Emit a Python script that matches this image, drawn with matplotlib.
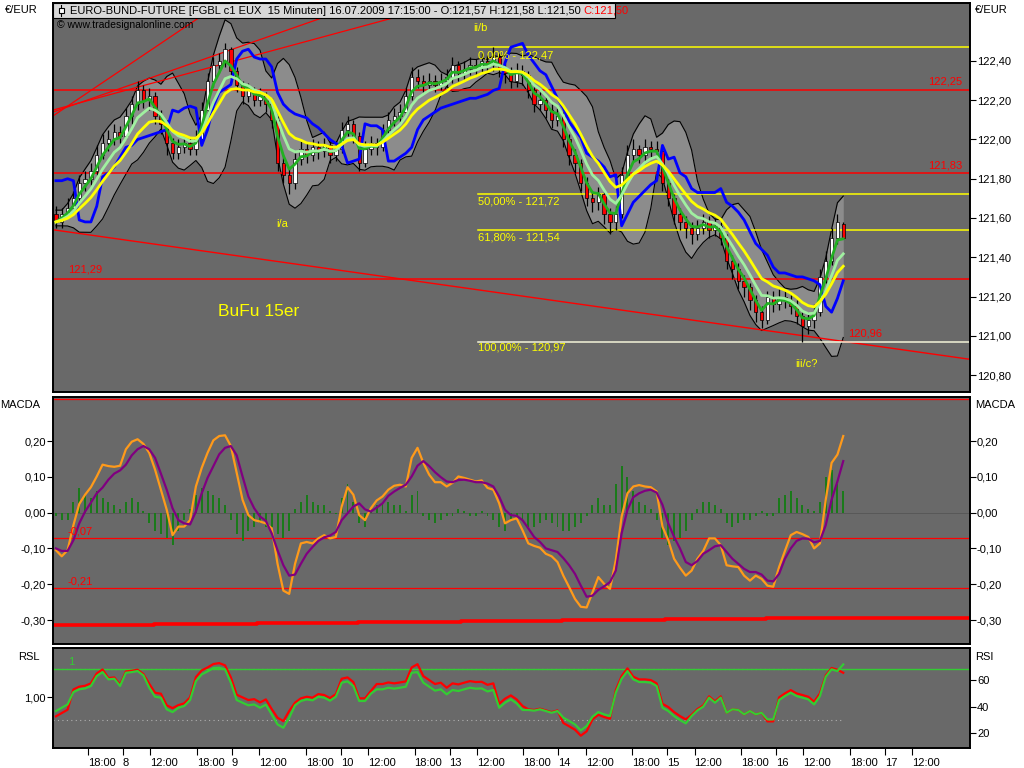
import numpy as np
import pandas as pd
import matplotlib
matplotlib.use("Agg")
import matplotlib.pyplot as plt
from matplotlib.patches import Rectangle
from matplotlib.collections import PatchCollection

plt.rcParams['font.family'] = ['Liberation Sans', 'DejaVu Sans']

# ---------------- data (45-minute samples of the 15-minute chart) ----------------
opens = [121.62, 121.58, 121.62, 121.65, 121.70, 121.78, 121.80, 121.84, 121.92, 121.98,
         122.00, 122.04, 122.02, 122.12, 122.18, 122.25, 122.20, 122.22, 122.12, 122.08,
         121.98, 121.93, 121.96, 121.98, 121.95, 122.00, 122.15, 122.30, 122.38, 122.40,
         122.46, 122.35, 122.28, 122.22, 122.25, 122.20, 122.22, 122.18, 122.10, 121.88,
         121.82, 121.78, 121.90, 121.95, 121.92, 121.96, 121.94, 121.97, 121.92, 121.95,
         122.05, 122.08, 122.02, 121.88, 121.95, 121.98, 121.96, 122.05, 122.10, 122.12,
         122.14, 122.22, 122.32, 122.30, 122.28, 122.30, 122.28, 122.30, 122.32, 122.38,
         122.34, 122.36, 122.38, 122.37, 122.40, 122.38, 122.42, 122.36, 122.34, 122.30,
         122.35, 122.33, 122.25, 122.18, 122.20, 122.15, 122.10, 122.12, 122.00, 121.92,
         121.88, 121.78, 121.70, 121.68, 121.72, 121.62, 121.58, 121.62, 121.82, 121.92,
         121.95, 121.92, 121.96, 121.95, 121.94, 121.78, 121.70, 121.62, 121.58, 121.55,
         121.52, 121.55, 121.58, 121.54, 121.56, 121.50, 121.38, 121.34, 121.28, 121.25,
         121.18, 121.12, 121.08, 121.20, 121.16, 121.20, 121.18, 121.15, 121.10, 121.05,
         121.08, 121.12, 121.30, 121.38, 121.50, 121.57]
highs = [121.66, 121.65, 121.70, 121.74, 121.82, 121.84, 121.88, 121.97, 122.03, 122.05,
         122.08, 122.07, 122.16, 122.22, 122.30, 122.28, 122.26, 122.24, 122.15, 122.10,
         122.01, 122.00, 122.03, 122.01, 122.05, 122.19, 122.34, 122.42, 122.44, 122.49,
         122.47, 122.37, 122.30, 122.29, 122.27, 122.26, 122.24, 122.21, 122.12, 121.92,
         121.86, 121.93, 121.99, 121.98, 122.00, 121.99, 122.01, 121.99, 121.99, 122.09,
         122.12, 122.10, 122.04, 121.99, 122.02, 122.01, 122.08, 122.14, 122.16, 122.18,
         122.26, 122.37, 122.36, 122.33, 122.34, 122.33, 122.34, 122.36, 122.42, 122.40,
         122.40, 122.42, 122.41, 122.44, 122.43, 122.47, 122.44, 122.39, 122.37, 122.39,
         122.38, 122.35, 122.27, 122.24, 122.22, 122.18, 122.16, 122.14, 122.03, 121.95,
         121.90, 121.81, 121.74, 121.76, 121.74, 121.65, 121.66, 121.86, 121.97, 122.00,
         121.97, 122.00, 121.99, 121.99, 121.96, 121.80, 121.72, 121.65, 121.61, 121.58,
         121.59, 121.62, 121.61, 121.60, 121.58, 121.52, 121.41, 121.37, 121.31, 121.27,
         121.21, 121.15, 121.23, 121.23, 121.24, 121.23, 121.21, 121.18, 121.12, 121.12,
         121.16, 121.34, 121.43, 121.55, 121.62, 121.58]
lows = [121.55, 121.55, 121.60, 121.62, 121.68, 121.74, 121.77, 121.82, 121.90, 121.94,
        121.97, 121.98, 122.00, 122.08, 122.15, 122.16, 122.15, 122.08, 122.03, 121.92,
        121.90, 121.90, 121.93, 121.92, 121.92, 121.98, 122.12, 122.27, 122.34, 122.37,
        122.31, 122.24, 122.18, 122.19, 122.17, 122.17, 122.14, 122.06, 121.84, 121.78,
        121.72, 121.75, 121.87, 121.88, 121.89, 121.90, 121.91, 121.88, 121.89, 121.93,
        122.02, 121.98, 121.84, 121.86, 121.92, 121.92, 121.94, 122.03, 122.07, 122.09,
        122.12, 122.20, 122.26, 122.24, 122.25, 122.24, 122.25, 122.27, 122.29, 122.30,
        122.31, 122.33, 122.33, 122.34, 122.34, 122.35, 122.32, 122.29, 122.26, 122.27,
        122.28, 122.21, 122.14, 122.15, 122.11, 122.06, 122.07, 121.96, 121.87, 121.83,
        121.74, 121.66, 121.63, 121.64, 121.57, 121.52, 121.54, 121.60, 121.80, 121.89,
        121.88, 121.89, 121.91, 121.90, 121.74, 121.66, 121.57, 121.54, 121.50, 121.47,
        121.49, 121.52, 121.50, 121.51, 121.46, 121.34, 121.29, 121.24, 121.20, 121.13,
        121.07, 121.04, 121.06, 121.12, 121.13, 121.14, 121.11, 121.06, 120.97, 121.01,
        121.04, 121.10, 121.27, 121.36, 121.47, 121.50]
closes = [121.58, 121.62, 121.65, 121.70, 121.78, 121.80, 121.84, 121.92, 121.98, 122.00,
          122.04, 122.02, 122.12, 122.18, 122.25, 122.20, 122.22, 122.12, 122.08, 121.98,
          121.93, 121.96, 121.98, 121.95, 122.00, 122.15, 122.30, 122.38, 122.40, 122.46,
          122.35, 122.28, 122.22, 122.25, 122.20, 122.22, 122.18, 122.10, 121.88, 121.82,
          121.78, 121.90, 121.95, 121.92, 121.96, 121.94, 121.97, 121.92, 121.95, 122.05,
          122.08, 122.02, 121.88, 121.95, 121.98, 121.96, 122.05, 122.10, 122.12, 122.14,
          122.22, 122.32, 122.30, 122.28, 122.30, 122.28, 122.30, 122.32, 122.38, 122.34,
          122.36, 122.38, 122.37, 122.40, 122.38, 122.42, 122.36, 122.34, 122.30, 122.35,
          122.33, 122.25, 122.18, 122.20, 122.15, 122.10, 122.12, 122.00, 121.92, 121.88,
          121.78, 121.70, 121.68, 121.72, 121.62, 121.58, 121.62, 121.82, 121.92, 121.95,
          121.92, 121.96, 121.95, 121.94, 121.78, 121.70, 121.62, 121.58, 121.55, 121.52,
          121.55, 121.58, 121.54, 121.56, 121.50, 121.38, 121.34, 121.28, 121.25, 121.18,
          121.12, 121.08, 121.20, 121.16, 121.20, 121.18, 121.15, 121.10, 121.05, 121.08,
          121.12, 121.30, 121.38, 121.50, 121.58, 121.50]
blue_line = [121.79, 121.79, 121.80, 121.79, 121.59, 121.58, 121.58, 121.66, 121.81, 121.83,
             121.86, 121.91, 121.96, 121.97, 122.00, 122.01, 122.02, 122.03, 122.04, 122.05,
             122.15, 122.14, 122.16, 122.17, 122.16, 121.97, 122.05, 122.17, 122.24, 122.26,
             122.28, 122.41, 122.45, 122.46, 122.42, 122.41, 122.41, 122.37, 122.24, 122.18,
             122.15, 122.13, 122.12, 122.11, 122.08, 122.06, 122.03, 122.00, 121.98, 121.97,
             121.88, 121.89, 121.90, 122.08, 122.07, 122.07, 122.05, 121.89, 121.89, 121.91,
             121.93, 121.96, 122.05, 122.10, 122.12, 122.14, 122.16, 122.17, 122.18, 122.19,
             122.20, 122.21, 122.21, 122.22, 122.23, 122.25, 122.26, 122.39, 122.47, 122.48,
             122.49, 122.43, 122.39, 122.35, 122.33, 122.27, 122.21, 122.16, 122.09, 122.05,
             122.01, 121.93, 121.91, 121.89, 121.86, 121.81, 121.82, 121.56, 121.62, 121.68,
             121.71, 121.74, 121.77, 121.79, 121.97, 121.90, 121.91, 121.83, 121.81, 121.75,
             121.73, 121.73, 121.73, 121.73, 121.75, 121.68, 121.66, 121.63, 121.59, 121.53,
             121.47, 121.44, 121.41, 121.35, 121.32, 121.32, 121.31, 121.30, 121.30, 121.29,
             121.28, 121.26, 121.15, 121.12, 121.19, 121.28]

macd = [-0.105, -0.122, -0.105, -0.035, 0.024, 0.050, 0.071, 0.101, 0.134, 0.130,
        0.128, 0.131, 0.177, 0.198, 0.205, 0.192, 0.167, 0.120, 0.064, 0.008,
        -0.063, -0.039, -0.039, -0.021, 0.073, 0.125, 0.167, 0.202, 0.214, 0.216,
        0.186, 0.111, 0.036, -0.007, -0.021, -0.025, -0.030, -0.044, -0.143, -0.218,
        -0.227, -0.143, -0.086, -0.082, -0.086, -0.072, -0.063, -0.072, -0.068, 0.017,
        0.071, 0.050, -0.007, -0.021, 0.012, 0.034, 0.045, 0.064, 0.075, 0.078,
        0.073, 0.153, 0.181, 0.139, 0.106, 0.085, 0.085, 0.073, 0.083, 0.101,
        0.097, 0.092, 0.087, 0.090, 0.069, 0.064, 0.026, -0.030, -0.021, -0.016,
        -0.049, -0.086, -0.093, -0.098, -0.115, -0.122, -0.138, -0.176, -0.208, -0.241,
        -0.263, -0.265, -0.223, -0.180, -0.199, -0.213, -0.133, -0.011, 0.054, 0.073,
        0.077, 0.073, 0.071, 0.059, -0.039, -0.077, -0.129, -0.154, -0.176, -0.162,
        -0.129, -0.107, -0.072, -0.072, -0.091, -0.147, -0.150, -0.152, -0.176, -0.190,
        -0.176, -0.185, -0.204, -0.207, -0.152, -0.107, -0.063, -0.054, -0.060, -0.068,
        -0.100, -0.086, 0.036, 0.139, 0.162, 0.214]
signal = [-0.100, -0.107, -0.107, -0.077, -0.030, 0.003, 0.028, 0.054, 0.070, 0.092,
          0.109, 0.118, 0.134, 0.160, 0.177, 0.186, 0.177, 0.153, 0.109, 0.064,
          0.012, -0.021, -0.030, -0.033, 0.003, 0.054, 0.097, 0.130, 0.163, 0.181,
          0.186, 0.160, 0.101, 0.045, 0.012, -0.011, -0.023, -0.058, -0.105, -0.147,
          -0.176, -0.173, -0.143, -0.115, -0.096, -0.079, -0.069, -0.064, -0.054, -0.021,
          -0.002, 0.017, 0.026, 0.009, 0.003, 0.014, 0.026, 0.047, 0.059, 0.069,
          0.078, 0.101, 0.131, 0.144, 0.130, 0.113, 0.099, 0.087, 0.085, 0.091,
          0.092, 0.089, 0.085, 0.085, 0.081, 0.073, 0.045, 0.008, -0.007, -0.009,
          -0.021, -0.044, -0.068, -0.082, -0.100, -0.105, -0.110, -0.127, -0.147, -0.171,
          -0.204, -0.235, -0.232, -0.216, -0.206, -0.194, -0.162, -0.058, 0.008, 0.043,
          0.054, 0.061, 0.064, 0.056, 0.022, -0.030, -0.068, -0.100, -0.138, -0.147,
          -0.135, -0.115, -0.105, -0.094, -0.091, -0.110, -0.129, -0.143, -0.157, -0.166,
          -0.166, -0.173, -0.190, -0.192, -0.171, -0.129, -0.100, -0.079, -0.072, -0.073,
          -0.083, -0.079, -0.035, 0.036, 0.087, 0.144]
hist = [-0.01, -0.02, -0.02, 0.03, 0.07, 0.05, 0.04, 0.06, 0.04, 0.03,
        0.02, 0.01, 0.03, 0.04, 0.03, 0.005, -0.03, -0.05, -0.06, -0.07,
        -0.09, -0.05, -0.02, 0.01, 0.05, 0.07, 0.06, 0.05, 0.04, 0.02,
        -0.02, -0.06, -0.08, -0.05, -0.04, -0.03, -0.04, -0.04, -0.06, -0.07,
        -0.05, 0.01, 0.03, 0.05, 0.03, 0.02, 0.02, 0.005, -0.005, 0.04,
        0.08, 0.03, -0.03, -0.04, 0.01, 0.02, 0.03, 0.03, 0.02, 0.02,
        0.005, 0.05, 0.06, -0.01, -0.02, -0.03, -0.02, -0.01, -0.01, 0.01,
        0.005, -0.01, -0.01, 0.005, -0.01, -0.02, -0.04, -0.05, -0.02, -0.01,
        -0.02, -0.04, -0.04, -0.03, -0.02, -0.03, -0.04, -0.05, -0.05, -0.04,
        -0.03, -0.01, 0.02, 0.04, 0.02, 0.02, 0.08, 0.13, 0.10, 0.06,
        0.03, 0.02, 0.01, -0.02, -0.07, -0.09, -0.08, -0.07, -0.05, -0.02,
        0.01, 0.03, 0.03, 0.02, 0.01, -0.03, -0.04, -0.03, -0.02, -0.02,
        -0.01, 0.005, -0.01, -0.01, 0.04, 0.05, 0.06, 0.04, 0.02, 0.01,
        0.005, 0.03, 0.10, 0.12, 0.08, 0.06]
macd_long = [-0.315, -0.312, -0.309, -0.306, -0.303, -0.300, -0.297, -0.294]

rsi_green = [36.6, 39.1, 41.6, 50.9, 53.0, 53.7, 55.5, 63.0, 66.0, 60.5,
             61.0, 55.5, 65.5, 66.0, 66.8, 63.5, 54.2, 47.4, 46.7, 37.9,
             35.8, 39.1, 40.4, 44.9, 59.2, 64.3, 66.5, 69.1, 69.3, 68.1,
             58.0, 44.9, 42.9, 40.9, 41.6, 39.1, 41.4, 34.1, 26.5, 24.0,
             31.6, 40.9, 44.2, 45.4, 44.7, 47.4, 46.7, 44.4, 47.4, 58.0,
             59.0, 55.5, 44.2, 44.2, 49.7, 53.0, 53.0, 54.2, 53.5, 54.2,
             55.0, 65.5, 66.0, 58.0, 55.0, 52.0, 53.0, 49.2, 52.5, 51.7,
             53.0, 54.2, 53.5, 53.7, 51.4, 52.5, 39.1, 42.9, 45.4, 42.4,
             37.4, 37.4, 36.9, 37.9, 36.6, 35.3, 36.6, 31.6, 29.1, 26.5,
             22.0, 25.3, 32.3, 35.8, 34.1, 32.8, 50.4, 61.0, 66.8, 60.5,
             58.5, 58.5, 58.0, 55.5, 39.1, 36.6, 32.8, 29.8, 27.3, 32.8,
             37.1, 39.9, 46.7, 42.9, 46.7, 35.3, 37.9, 37.4, 34.1, 36.6,
             34.1, 35.3, 30.3, 30.3, 44.9, 47.9, 50.4, 47.9, 46.7, 45.4,
             41.6, 47.9, 62.5, 68.1, 66.8, 71.8]
rsi_red = [32.6, 35.1, 37.6, 52.9, 55.0, 55.7, 57.5, 65.0, 68.0, 61.5,
           62.0, 56.5, 66.5, 67.0, 67.8, 64.5, 57.2, 50.4, 49.7, 40.9,
           38.8, 41.1, 42.4, 46.9, 62.2, 67.3, 69.5, 72.1, 72.8, 71.1,
           62.0, 48.9, 46.9, 44.9, 45.6, 43.1, 45.4, 38.1, 31.5, 29.0,
           36.6, 42.9, 46.2, 47.4, 46.7, 49.4, 48.7, 46.4, 49.4, 61.0,
           62.0, 58.5, 46.2, 46.2, 51.7, 57.0, 57.0, 58.2, 57.5, 58.2,
           59.0, 69.5, 72.0, 63.0, 60.0, 57.0, 58.0, 54.2, 57.5, 56.7,
           58.0, 59.2, 58.5, 58.7, 56.4, 57.5, 42.1, 45.9, 48.4, 45.4,
           40.4, 37.9, 37.4, 38.4, 37.1, 35.8, 37.1, 27.6, 25.1, 22.5,
           18.0, 21.3, 30.3, 33.8, 32.1, 30.8, 52.4, 63.0, 68.8, 62.5,
           60.5, 60.5, 60.0, 57.5, 42.1, 39.6, 35.8, 32.8, 30.3, 33.8,
           38.1, 40.9, 47.7, 43.9, 47.7, 35.3, 37.9, 37.4, 34.1, 36.6,
           34.1, 35.3, 28.8, 28.8, 46.9, 49.9, 52.4, 49.9, 48.7, 47.4,
           43.6, 49.9, 63.5, 69.1, 67.8, 65.5]

price_ticks = [122.40, 122.20, 122.00, 121.80, 121.60, 121.40, 121.20, 121.00, 120.80]
macd_ticks = [0.20, 0.10, 0.00, -0.10, -0.20, -0.30]
rsi_ticks = [60, 40, 20]
red_levels = [122.25, 121.83, 121.29]
fib_levels = [122.47, 121.72, 121.54, 120.97]
fib_labels = ["0,00% - 122,47", "50,00% - 121,72", "61,80% - 121,54", "100,00% - 120,97"]
macd_levels = [-0.07, -0.21]
x_tick_bars = [18, 36, 50, 74, 92, 106, 130, 148, 162, 186, 204, 218,
               242, 260, 274, 298, 316, 330, 354, 372, 386, 410, 428, 442]
x_tick_labels = ['18:00', '8', '12:00', '18:00', '9', '12:00', '18:00', '10', '12:00',
                 '18:00', '13', '12:00', '18:00', '14', '12:00', '18:00', '15', '12:00',
                 '18:00', '16', '12:00', '18:00', '17', '12:00']
# trend lines given as (bar index, price) end points
down_trend = [(0, 121.54), (471.7, 120.88)]
fan_lines = [[(0, 122.12), (75, 122.62)], [(0, 122.14), (150, 122.66)], [(0, 122.15), (190, 122.66)]]

# ---------------- figure ----------------
W, H = 1024, 768
fig = plt.figure(figsize=(W / 100, H / 100), dpi=100, facecolor='white')


def rect(x0, y0, x1, y1):
    return [x0 / W, 1 - y1 / H, (x1 - x0) / W, (y1 - y0) / H]


def ftext(x, y, s, **kw):
    return fig.text(x / W, 1 - y / H, s, **kw)


BG = '#696969'
XMAX = 471.7
ax_p = fig.add_axes(rect(53, 3, 970, 392))
ax_m = fig.add_axes(rect(53, 397, 970, 644))
ax_r = fig.add_axes(rect(53, 648, 970, 748))
for ax in (ax_p, ax_m, ax_r):
    ax.set_facecolor(BG)
    ax.set_xlim(0, XMAX)
    for s in ax.spines.values():
        s.set_color('black')
        s.set_linewidth(1.4)
    ax.tick_params(colors='black', labelsize=8, direction='out', length=4, width=0.8, pad=1)

fmt = lambda v: f"{v:.2f}".replace('.', ',')

# ---------- price panel ----------
n = min(len(opens), len(highs), len(lows), len(closes))
t = np.arange(n) * 3 + 1.5
o = np.array(opens[:n]); h = np.array(highs[:n]); l = np.array(lows[:n]); c = np.array(closes[:n])
ax_p.set_ylim(120.7134, 122.6955)
ax_p.yaxis.tick_right()
ax_p.set_yticks(price_ticks)
ax_p.set_yticklabels([fmt(v) for v in price_ticks])
ax_p.set_xticks([])

s = pd.Series(c)
mid = s.rolling(7, min_periods=2).mean()
sd = s.rolling(7, min_periods=2).std(ddof=0)
upper = (mid + 2 * sd).bfill()
lower = (mid - 2 * sd).bfill()
ax_p.fill_between(t, lower, upper, color='#8c8c8c', zorder=1, lw=0)
ax_p.plot(t, upper, color='black', lw=0.8, zorder=1.5)
ax_p.plot(t, lower, color='black', lw=0.8, zorder=1.5)

for lv in red_levels:
    ax_p.axhline(lv, color='#ff0000', lw=1.1, zorder=2)
ax_p.plot([p[0] for p in down_trend], [p[1] for p in down_trend], color='#ff0000', lw=1.0, zorder=2)
for fl in fan_lines:
    ax_p.plot([p[0] for p in fl], [p[1] for p in fl], color='#ff0000', lw=0.9, zorder=2)
for lv in fib_levels[:3]:
    ax_p.plot([218.6, XMAX], [lv, lv], color='#ffff00', lw=1.1, zorder=2)
ax_p.plot([218.6, XMAX], [fib_levels[3], fib_levels[3]], color='#f4f4d8', lw=1.1, zorder=2)

ax_p.vlines(t, l, h, color='black', lw=0.9, zorder=3)
bodies = []
cols = []
for ti, oi, ci in zip(t, o, c):
    lo_b = min(oi, ci)
    hb = max(abs(ci - oi), 0.005)
    bodies.append(Rectangle((ti - 0.85, lo_b), 1.7, hb))
    cols.append('white' if ci >= oi else '#ff0000')
ax_p.add_collection(PatchCollection(bodies, facecolors=cols, edgecolors='black', linewidths=0.5, zorder=3.5))

ema_y = s.ewm(span=10, adjust=False).mean()
ema_lg = s.ewm(span=6, adjust=False).mean()
ema_g = s.ewm(span=3, adjust=False).mean()
nb = min(n, len(blue_line))
ax_p.plot(t[:nb], blue_line[:nb], color='#0000ff', lw=2.0, zorder=4)
ax_p.plot(t, ema_g, color='#22b022', lw=2.0, zorder=4.2)
ax_p.plot(t, ema_lg, color='#a0f0a0', lw=2.0, zorder=4.3)
ax_p.plot(t, ema_y, color='#ffff00', lw=2.0, zorder=4.4)

# ---------- MACD panel ----------
ax_m.set_ylim(-0.367, 0.323)
ax_m.set_yticks(macd_ticks)
ax_m.set_yticklabels([fmt(v) for v in macd_ticks])
ax_m.tick_params(left=True, right=True, labelleft=True, labelright=True)
ax_m.set_xticks([])
nh = min(n, len(hist))
ax_m.bar(t[:nh], hist[:nh], width=1.0, color='#1a7a1a', zorder=2)
ax_m.axhline(0, color='#555555', lw=0.6, zorder=1)
for lv in macd_levels:
    ax_m.axhline(lv, color='#ff0000', lw=0.9, zorder=1.5)
ax_m.axhline(0.318, color='#ff0000', lw=0.9, zorder=1.5)
seg_start = [0, 52, 105, 157, 210, 262, 315, 367]
seg_x = []
seg_y = []
for i, v in enumerate(macd_long):
    x0 = seg_start[i]
    x1 = seg_start[i + 1] if i + 1 < len(seg_start) else XMAX
    seg_x += [x0, x1]
    seg_y += [v, v]
ax_m.plot(seg_x, seg_y, color='#ff0000', lw=2.6, zorder=2)
nm = min(n, len(macd), len(signal))
ax_m.plot(t[:nm], macd[:nm], color='#ff9a1a', lw=1.6, zorder=3)
ax_m.plot(t[:nm], signal[:nm], color='#800080', lw=1.6, zorder=3.5)

# ---------- RSI panel ----------
ax_r.set_ylim(8.7, 84.2)
ax_r.set_yticks([47.2])
ax_r.set_yticklabels(['1,00'])
ax_r2 = ax_r.twinx()
ax_r2.set_ylim(8.7, 84.2)
ax_r2.set_xlim(0, XMAX)
ax_r2.set_yticks(rsi_ticks)
ax_r2.set_yticklabels([str(v) for v in rsi_ticks])
ax_r2.tick_params(colors='black', labelsize=8, direction='out', length=4, width=0.8, pad=1)
for sp in ax_r2.spines.values():
    sp.set_visible(False)
nr = min(n, len(rsi_green), len(rsi_red))
ax_r.plot([0, t[nr - 1]], [68, 68], color='#b0b0b0', lw=0.8, ls=(0, (1, 3)), zorder=1)
ax_r.plot([0, t[nr - 1]], [30, 30], color='#b0b0b0', lw=0.8, ls=(0, (1, 3)), zorder=1)
ax_r.axhline(68, color='#33cc33', lw=1.0, zorder=1.5)
ax_r.plot(t[:nr], rsi_red[:nr], color='#ff0000', lw=1.6, zorder=2)
ax_r.plot(t[:nr], rsi_green[:nr], color='#33cc33', lw=1.6, zorder=2.5)
ax_r.set_xticks(x_tick_bars)
ax_r.set_xticklabels(x_tick_labels, ha='left', fontsize=8,
                     fontfamily=['Liberation Sans Narrow', 'Liberation Sans', 'DejaVu Sans'])
ax_r.tick_params(axis='x', length=5, pad=2)

# ---------- texts ----------
ftext(5, 10, '€/EUR', fontsize=8, va='center')
ftext(975, 10, '€/EUR', fontsize=8, va='center')
ftext(0, 405, 'MACDA', fontsize=8, va='center')
ftext(975, 405, 'MACDA', fontsize=8, va='center')
ftext(18, 657, 'RSL', fontsize=8, va='center')
ftext(975, 657, 'RSI', fontsize=8, va='center')

# header box
fig.patches.append(Rectangle((53 / W, 1 - 18 / H), (615 - 53) / W, 15 / H, transform=fig.transFigure,
                             facecolor='#d8d8d8', edgecolor='black', lw=0.8, zorder=5))
fig.lines.append(plt.Line2D([61 / W, 61 / W], [1 - 5 / H, 1 - 16 / H], transform=fig.transFigure,
                            color='black', lw=0.8, zorder=6))
fig.patches.append(Rectangle((58.5 / W, 1 - 13 / H), 5 / W, 5 / H, transform=fig.transFigure,
                             facecolor='white', edgecolor='black', lw=0.8, zorder=7))
hdr = ftext(70, 10.5, 'EURO-BUND-FUTURE [FGBL c1 EUX  15 Minuten] 16.07.2009 17:15:00 - O:121,57 H:121,58 L:121,50 ',
            fontsize=8, va='center', zorder=8)
fig.canvas.draw()
bb = hdr.get_window_extent(renderer=fig.canvas.get_renderer())
fig.text(bb.x1 / W, 1 - 10.5 / H, 'C:121,50', fontsize=8, va='center', color='#ff0000', zorder=8)
ftext(57, 25, '© www.tradesignalonline.com', fontsize=7.5, va='center', color='black')

yellow = '#ffff00'
ftext(473, 28, 'ii/b', fontsize=8, va='center', color=yellow)
ftext(276, 224, 'i/a', fontsize=8, va='center', color=yellow)
ftext(795, 364, 'iii/c?', fontsize=8, va='center', color=yellow)
ftext(218, 312, 'BuFu 15er', fontsize=12.5, va='center', color=yellow)
fib_px = [48, 194, 229, 340]
for ypx, lab in zip(fib_px, fib_labels):
    ftext(478, ypx + 8, lab, fontsize=8, va='center', color=yellow)
ftext(68, 270, '121,29', fontsize=8, va='center', color='#ff0000')
ftext(928, 82, '122,25', fontsize=8, va='center', color='#ff0000')
ftext(928, 165, '121,83', fontsize=8, va='center', color='#ff0000')
ftext(848, 333, '120,96', fontsize=8, va='center', color='#ff0000')
ftext(68, 531, '-0,07', fontsize=8, va='center', color='#ff0000')
ftext(68, 581, '-0,21', fontsize=8, va='center', color='#ff0000')
ftext(68, 662, '1', fontsize=8, va='center', color='#33cc33')

fig.savefig('out.png', dpi=100, facecolor='white')
